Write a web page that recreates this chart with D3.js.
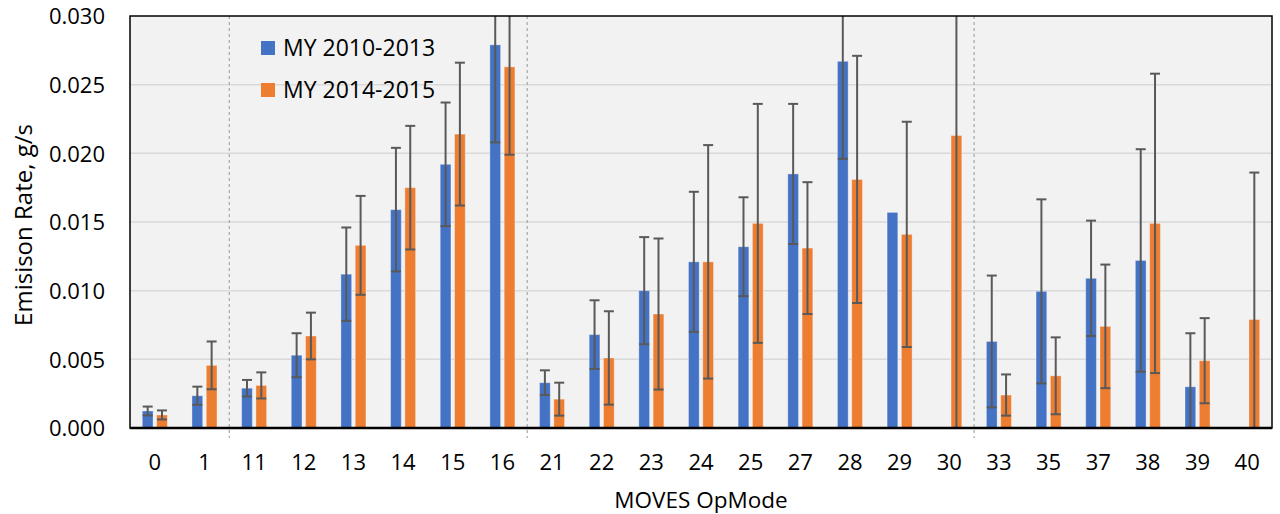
<!DOCTYPE html>
<meta charset="utf-8">
<script src="https://d3js.org/d3.v7.min.js"></script>
<style>
  body { margin: 0; background: #fff; }
  text { font-family: "Open Sans", "Noto Sans", sans-serif; fill: #000; }
</style>
<div id="chart"></div>
<script>

// OpMode categories and rates (g/s), error bars are +/- values
var opModes = ["0","1","11","12","13","14","15","16","21","22","23","24","25","27","28","29","30","33","35","37","38","39","40"]
var seriesNames = ["MY 2010-2013","MY 2014-2015"]
var rate2010 = [0.00124,0.00235,0.0029,0.0053,0.0112,0.0159,0.0192,0.0279,0.0033,0.0068,0.0100,0.0121,0.0132,0.0185,0.0267,0.0157,null,0.0063,0.00995,0.0109,0.0122,0.0030,null]
var err2010 = [0.00032,0.00066,0.0006,0.0016,0.0034,0.0045,0.0045,0.0071,0.0009,0.0025,0.0039,0.0051,0.0036,0.0051,0.0071,null,null,0.0048,0.0067,0.0042,0.0081,0.0039,null]
var rate2014 = [0.00095,0.00456,0.0031,0.0067,0.0133,0.0175,0.0214,0.0263,0.0021,0.0051,0.0083,0.0121,0.0149,0.0131,0.0181,0.0141,0.0213,0.0024,0.0038,0.0074,0.0149,0.0049,0.0079]
var err2014 = [0.00033,0.00174,0.00095,0.0017,0.0036,0.0045,0.0052,0.0064,0.0012,0.0034,0.0055,0.0085,0.0087,0.0048,0.0090,0.0082,0.0215,0.0015,0.0028,0.0045,0.0109,0.0031,0.0107]
var yTicks = [0,0.005,0.010,0.015,0.020,0.025,0.030]
// groups are split after these opModes
var groupBreaks = ["1","16","30"]

var colors = {"MY 2010-2013":"#4472C4","MY 2014-2015":"#ED7D31"}

var width = 1280, height = 514
var margin = {left:130, right:8, top:16, bottom:86}

var svg = d3.select("#chart").append("svg").attr("width",width).attr("height",height)

var x = d3.scaleBand()
	.domain(opModes)
	.range([margin.left, width-margin.right])

var xs = d3.scaleBand()
	.domain(seriesNames)
	.range([0, x.bandwidth()])
	.paddingInner(0.25)
	.paddingOuter(0.86)

var y = d3.scaleLinear()
	.domain([0,0.030])
	.range([height-margin.bottom, margin.top])

// plot background
svg.append("rect")
	.attr("x",x.range()[0]).attr("y",y(0.030))
	.attr("width",x.range()[1]-x.range()[0]).attr("height",y(0)-y(0.030))
	.attr("fill","#F2F2F2")

// gridlines
svg.append("g")
	.selectAll("line")
	.data(yTicks.slice(1,-1))
	.join("line")
	.attr("x1",x.range()[0]).attr("x2",x.range()[1])
	.attr("y1",d=>y(d)).attr("y2",d=>y(d))
	.attr("stroke","#D9D9D9").attr("stroke-width",1.5)

// dashed group separators
svg.append("g")
	.selectAll("line")
	.data(groupBreaks)
	.join("line")
	.attr("x1",d=>x(d)+x.step()).attr("x2",d=>x(d)+x.step())
	.attr("y1",y(0.030)).attr("y2",y(0)+10)
	.attr("stroke","#A6A6A6").attr("stroke-width",1.2)
	.attr("stroke-dasharray","3,3")

var rows = []
opModes.forEach(function(m,i){
	rows.push({mode:m, series:seriesNames[0], value:rate2010[i], err:err2010[i]})
	rows.push({mode:m, series:seriesNames[1], value:rate2014[i], err:err2014[i]})
})
var barRows = rows.filter(d=>d.value!=null)

svg.append("g")
	.selectAll("rect")
	.data(barRows)
	.join("rect")
	.attr("x",d=>x(d.mode)+xs(d.series))
	.attr("width",xs.bandwidth())
	.attr("y",d=>y(Math.min(d.value,0.030)))
	.attr("height",d=>y(0)-y(Math.min(d.value,0.030)))
	.attr("fill",d=>colors[d.series])
	.attr("stroke","#fff").attr("stroke-opacity",0.35).attr("stroke-width",1)

// error bars, clipped to the plot area
var errRows = barRows.filter(d=>d.err!=null)
var capW = 5
var eg = svg.append("g").attr("stroke","#595959").attr("stroke-width",2)
errRows.forEach(function(d){
	var cx = x(d.mode)+xs(d.series)+xs.bandwidth()/2
	var hi = d.value+d.err, lo = d.value-d.err
	var yHi = y(Math.min(hi,0.030)), yLo = y(Math.max(lo,0))
	eg.append("line").attr("x1",cx).attr("x2",cx).attr("y1",yHi).attr("y2",yLo)
	if(hi<=0.030){
		eg.append("line").attr("x1",cx-capW).attr("x2",cx+capW).attr("y1",y(hi)).attr("y2",y(hi))
	}
	if(lo>=0){
		eg.append("line").attr("x1",cx-capW).attr("x2",cx+capW).attr("y1",y(lo)).attr("y2",y(lo))
	}
})

// plot frame
svg.append("rect")
	.attr("x",x.range()[0]).attr("y",y(0.030))
	.attr("width",x.range()[1]-x.range()[0]).attr("height",y(0)-y(0.030))
	.attr("fill","none").attr("stroke","#000").attr("stroke-width",1.5)
svg.append("line")
	.attr("x1",x.range()[0]).attr("x2",x.range()[1])
	.attr("y1",y(0)).attr("y2",y(0))
	.attr("stroke","#000").attr("stroke-width",2.5)

// y axis
var yAxis = svg.append("g")
	.attr("transform","translate("+(margin.left-22)+",0)")
	.call(d3.axisLeft(y).tickValues(yTicks).tickFormat(d3.format(".3f")).tickSize(0))
yAxis.select(".domain").remove()
yAxis.selectAll("text").attr("font-size","22px").attr("font-family","'Open Sans', sans-serif").attr("fill","#000").attr("dy","0.35em")

// x axis
var xAxis = svg.append("g")
	.attr("transform","translate(0,"+(y(0)+23)+")")
	.call(d3.axisBottom(x).tickSize(0))
xAxis.select(".domain").remove()
xAxis.selectAll("text").attr("font-size","22px").attr("font-family","'Open Sans', sans-serif").attr("fill","#000")

// axis titles
svg.append("text")
	.text("Emisison Rate, g/s")
	.attr("transform","translate(32,225) rotate(-90)")
	.attr("text-anchor","middle")
	.attr("font-size","24px")

svg.append("text")
	.text("MOVES OpMode")
	.attr("x",(x.range()[0]+x.range()[1])/2)
	.attr("y",508)
	.attr("text-anchor","middle")
	.attr("font-size","22.5px")

// legend
var legend = svg.append("g")
	.selectAll("g")
	.data(seriesNames)
	.join("g")
	.attr("transform",(d,i)=>"translate(261,"+(41+i*42)+")")
legend.append("rect")
	.attr("width",14).attr("height",14)
	.attr("fill",d=>colors[d])
legend.append("text")
	.text(d=>d)
	.attr("x",22).attr("y",7).attr("dy","0.35em")
	.attr("font-size","23px")

</script>
